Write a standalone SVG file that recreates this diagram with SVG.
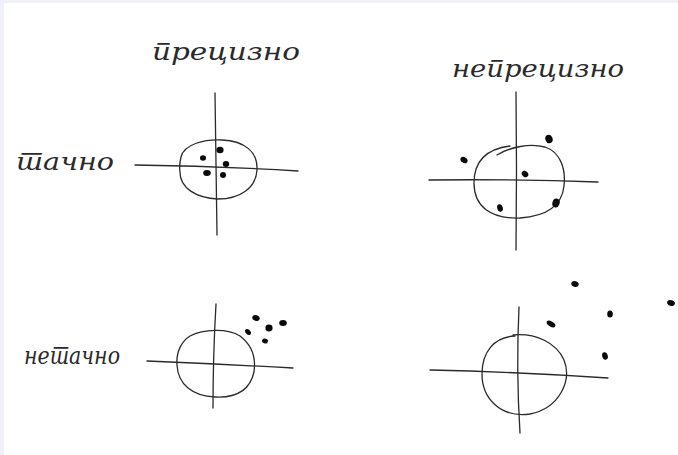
<svg xmlns="http://www.w3.org/2000/svg" width="678" height="455" viewBox="0 0 678 455">
<style>
.ln{fill:none;stroke:#2a2a2a;stroke-width:1.3;stroke-linecap:round;stroke-linejoin:round}
.dot{fill:#0a0a0a}
.lb{font-family:"DejaVu Serif","Liberation Serif",serif;font-style:italic;fill:#2a2a2a;font-size:24px}
</style>
<rect x="0" y="0" width="678" height="455" fill="#f0f0fb"/>
<rect x="4" y="3" width="674" height="452" fill="#ffffff"/>
<g id="labels">
<text id="lbl-precizno" class="lb" lang="sr" x="152" y="60" textLength="148" lengthAdjust="spacingAndGlyphs">прецизно</text>
<text id="lbl-neprecizno" class="lb" lang="sr" x="452" y="77" textLength="172" lengthAdjust="spacingAndGlyphs">непрецизно</text>
<text id="lbl-tacno" class="lb" lang="sr" x="16" y="170" textLength="98" lengthAdjust="spacingAndGlyphs">тачно</text>
<text id="lbl-netacno" class="lb" lang="sr" x="24" y="364" textLength="96" lengthAdjust="spacingAndGlyphs">нетачно</text>
</g>
<g id="target-precise-accurate">
<path class="ln" d="M215,93 Q216,160 217,235"/>
<path class="ln" d="M135,165 Q215,166 298,171"/>
<path class="ln" d="M181,157 C184,144 205,139 222,140 C245,141 258,152 257,170 C256,188 240,199 218,199 C196,198 180,188 180,172 C179,166 180,161 181,157 Z"/>
<ellipse class="dot" cx="220" cy="150" rx="3.6" ry="3.3"/>
<ellipse class="dot" cx="203" cy="158" rx="3" ry="2.8"/>
<ellipse class="dot" cx="226" cy="164" rx="3.2" ry="3"/>
<ellipse class="dot" cx="207" cy="173" rx="3.8" ry="3"/>
<ellipse class="dot" cx="223" cy="175" rx="3" ry="3"/>
</g>
<g id="target-imprecise-accurate">
<path class="ln" d="M516,92 Q517,170 516,250"/>
<path class="ln" d="M429,180 Q515,179 598,182"/>
<path class="ln" d="M497,155 C510,147 530,143 545,147 C560,152 566,168 564,186 C562,205 548,216 520,218 C490,219 474,206 474,183 C474,162 486,149 510,146"/>
<ellipse class="dot" cx="549" cy="139" rx="3.6" ry="4.3" transform="rotate(-20 549 139)"/>
<ellipse class="dot" cx="464" cy="160" rx="3.8" ry="2.8" transform="rotate(35 464 160)"/>
<ellipse class="dot" cx="525" cy="174" rx="3.6" ry="2.8" transform="rotate(40 525 174)"/>
<ellipse class="dot" cx="500" cy="208" rx="2.8" ry="3.8" transform="rotate(-15 500 208)"/>
<ellipse class="dot" cx="556" cy="203" rx="3.6" ry="4.4" transform="rotate(20 556 203)"/>
</g>
<g id="target-precise-inaccurate">
<path class="ln" d="M216,304 Q213,355 213,408"/>
<path class="ln" d="M147,361 Q220,364 293,368"/>
<path class="ln" d="M190,336 C203,329 228,328 240,336 C252,345 256,358 254,372 C250,390 236,398 215,397 C192,396 178,384 177,365 C176,351 182,341 190,336 Z"/>
<ellipse class="dot" cx="256" cy="318" rx="3.8" ry="2.8" transform="rotate(20 256 318)"/>
<ellipse class="dot" cx="248" cy="332" rx="3.4" ry="2.3" transform="rotate(45 248 332)"/>
<ellipse class="dot" cx="269" cy="328" rx="3.6" ry="3.4"/>
<ellipse class="dot" cx="283" cy="323" rx="3.8" ry="3"/>
<ellipse class="dot" cx="265" cy="341" rx="3" ry="2.4" transform="rotate(20 265 341)"/>
</g>
<g id="target-imprecise-inaccurate">
<path class="ln" d="M519,307 Q516,370 520,433"/>
<path class="ln" d="M430,370 Q520,372 608,378"/>
<path class="ln" d="M513,335 C535,333 556,342 564,360 C572,380 560,408 530,414 C500,418 482,398 482,374 C482,352 494,337 515,336"/>
<ellipse class="dot" cx="575" cy="284" rx="3.8" ry="2.8" transform="rotate(20 575 284)"/>
<ellipse class="dot" cx="551" cy="324" rx="4.8" ry="2.6" transform="rotate(30 551 324)"/>
<ellipse class="dot" cx="610" cy="314" rx="2.8" ry="3.6"/>
<ellipse class="dot" cx="605" cy="356" rx="2.8" ry="3.8" transform="rotate(-15 605 356)"/>
<ellipse class="dot" cx="671" cy="303" rx="4" ry="2.8" transform="rotate(20 671 303)"/>
</g>
</svg>
